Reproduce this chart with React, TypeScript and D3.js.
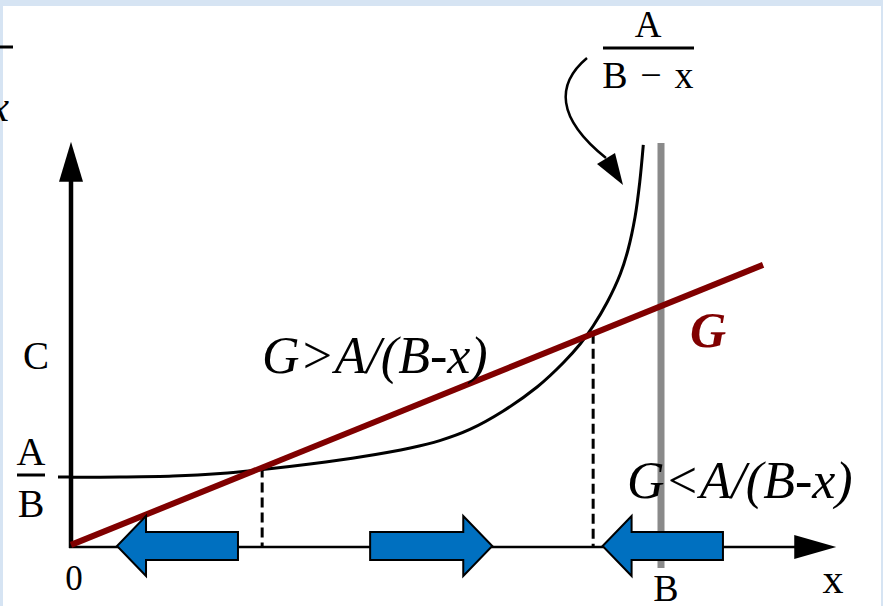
import React from "react";
import * as d3 from "d3";

const W = 883;
const H = 606;

// x in units where B = 10, y in units of A/B (A/B = 1)
const B_VALUE = 10;
const AB_LEVEL = 1;
const X_AXIS_END = 12.97;
const Y_AXIS_END = 5.79;

// the curve A/(B-x)
const curveX = [0, 0.83, 1.73, 2.53, 3.25, 4.05, 4.95, 5.75, 6.25, 6.76, 7.32, 7.9, 8.34, 8.63, 8.85, 9.09, 9.31, 9.44, 9.56, 9.64, 9.7];
const curveY = [0.996, 1.0, 1.014, 1.05, 1.107, 1.186, 1.293, 1.415, 1.52, 1.68, 1.94, 2.286, 2.629, 2.9, 3.157, 3.5, 3.9, 4.243, 4.714, 5.214, 5.743];

// straight line G
const gX = [0, 11.73];
const gY = [0.03, 4.03];

// where G meets A/(B-x)
const crossings = [3.24, 8.85];

// blue direction arrows (tail -> tip)
const arrowTail = [2.83, 5.07, 11.05];
const arrowTip = [0.78, 7.14, 9.01];

const FONT = "'Liberation Serif', 'Times New Roman', serif";
const DARK_RED = "#800000";
const BLUE = "#0070c0";

export default function App() {
  const x = d3.scaleLinear().domain([0, B_VALUE]).range([71, 661]);
  const y = d3.scaleLinear().domain([0, AB_LEVEL]).range([547, 477]);
  const g = d3.scaleLinear().domain(gX).range(gY);

  const curvePts: [number, number][] = curveX.map((v, i) => [v, curveY[i]]);
  const curvePath = d3
    .line<[number, number]>()
    .x((d) => x(d[0]))
    .y((d) => y(d[1]))
    .curve(d3.curveCatmullRom.alpha(0.5))(curvePts);

  const x0 = x(0);
  const y0 = y(0);
  const xEnd = x(X_AXIS_END);
  const yTop = y(Y_AXIS_END);

  const arrowPoly = (tail: number, tip: number) => {
    const xt = x(tail);
    const xh = x(tip);
    const dir = Math.sign(xh - xt);
    const base = xh - dir * 29;
    const cy = y0 - 1;
    const pts = [
      [xt, cy - 14],
      [base, cy - 14],
      [base, cy - 30],
      [xh, cy],
      [base, cy + 30],
      [base, cy + 14],
      [xt, cy + 14],
    ];
    return pts.map((p) => p.join(",")).join(" ");
  };

  return (
    <svg
      width={W}
      height={H}
      viewBox={`0 0 ${W} ${H}`}
      style={{ position: "fixed", left: 0, top: 0, display: "block" }}
    >
      <rect x={0} y={0} width={W} height={H} fill="#d6e4f3" />
      <rect x={3} y={6} width={878} height={H - 6} fill="#ffffff" />

      {/* cut-off fragment at the top left */}
      <line x1={0} y1={47} x2={13} y2={47} stroke="#000" strokeWidth={3} />
      <text x={9} y={121} fontFamily={FONT} fontStyle="italic" fontSize={44} textAnchor="end">
        x
      </text>

      {/* asymptote at B */}
      <line x1={x(B_VALUE)} y1={143} x2={x(B_VALUE)} y2={568} stroke="#8a8a8a" strokeWidth={7} />

      {/* x axis */}
      <line x1={x0 - 2} y1={y0} x2={xEnd - 40} y2={y0} stroke="#000" strokeWidth={2.5} />
      <polygon
        points={`${xEnd},${y0} ${xEnd - 42},${y0 - 12} ${xEnd - 42},${y0 + 12}`}
        fill="#000"
      />
      {/* y axis */}
      <line x1={x0} y1={y0 + 1} x2={x0} y2={yTop + 36} stroke="#000" strokeWidth={4.5} />
      <polygon
        points={`${x0},${yTop} ${x0 - 12},${yTop + 40} ${x0 + 12},${yTop + 40}`}
        fill="#000"
      />

      {/* A/B tick */}
      <line x1={58} y1={y(AB_LEVEL)} x2={x0} y2={y(AB_LEVEL)} stroke="#000" strokeWidth={3} />

      {/* curve A/(B-x) */}
      <path d={curvePath ?? ""} fill="none" stroke="#000" strokeWidth={3} />

      {/* dashed drops */}
      {crossings.map((c, i) => (
        <line
          key={i}
          x1={x(c)}
          y1={y(g(c))}
          x2={x(c)}
          y2={y0}
          stroke="#000"
          strokeWidth={3}
          strokeDasharray="10,5"
        />
      ))}

      {/* line G */}
      <line
        x1={x(gX[0])}
        y1={y(gY[0])}
        x2={x(gX[1])}
        y2={y(gY[1])}
        stroke={DARK_RED}
        strokeWidth={6}
      />

      {/* blue arrows */}
      {arrowTail.map((t, i) => (
        <polygon
          key={i}
          points={arrowPoly(t, arrowTip[i])}
          fill={BLUE}
          stroke="#000"
          strokeWidth={2}
          strokeLinejoin="miter"
        />
      ))}

      {/* pointer to the curve */}
      <path d="M587,58 C556,84 556,118 606,158" fill="none" stroke="#000" strokeWidth={2.5} />
      <polygon points="623,185 597,164 615,153" fill="#000" />

      {/* labels */}
      <g fontFamily={FONT} fill="#000">
        <text x={648} y={37} fontSize={37} textAnchor="middle">A</text>
        <line x1={603} y1={48} x2={694} y2={48} stroke="#000" strokeWidth={3} />
        <text x={615} y={88} fontSize={38} textAnchor="middle">B</text>
        <text x={651} y={88} fontSize={38} textAnchor="middle">−</text>
        <text x={684} y={88} fontSize={38} textAnchor="middle">x</text>

        <text x={36} y={369} fontSize={39} textAnchor="middle">C</text>

        <text x={31} y={465} fontSize={40} textAnchor="middle">A</text>
        <line x1={17} y1={475} x2={45} y2={475} stroke="#000" strokeWidth={3} />
        <text x={31} y={517} fontSize={40} textAnchor="middle">B</text>

        <text x={74} y={590} fontSize={35} textAnchor="middle">0</text>
        <text x={x(B_VALUE) + 5} y={601} fontSize={38} textAnchor="middle">B</text>
        <text x={833} y={593} fontSize={42} textAnchor="middle">x</text>

        <text x={262} y={373} fontSize={52} fontStyle="italic">G&gt;A/(B-x)</text>
        <text x={627} y={498} fontSize={52} fontStyle="italic">G&lt;A/(B-x)</text>
      </g>
      <text
        x={690}
        y={347}
        fontFamily={FONT}
        fontSize={50}
        fontStyle="italic"
        fontWeight="bold"
        fill={DARK_RED}
      >
        G
      </text>
    </svg>
  );
}
